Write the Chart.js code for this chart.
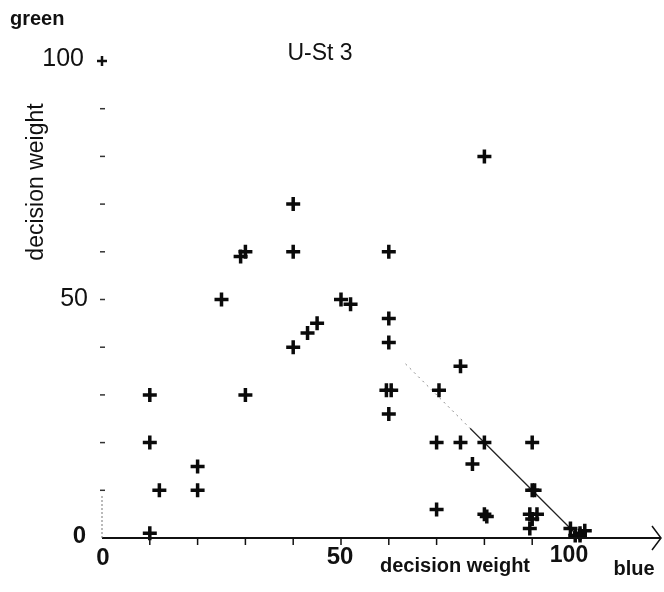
<!DOCTYPE html>
<html>
<head>
<meta charset="utf-8">
<script src="https://cdn.jsdelivr.net/npm/chart.js"></script>
<style>
  body { margin: 0; background: #fff; }
  canvas { display: block; }
</style>
</head>
<body>
<canvas id="myChart" width="664" height="592"></canvas>
<script>
// decision weights (blue = x, green = y)
var blueW  = [10, 10, 10, 12, 20, 20, 25, 29, 30, 30, 40, 40, 40, 43, 45, 50, 52,
              60, 60, 60, 59.5, 60.5, 60, 70.5, 75, 80, 70, 75, 80, 90, 77.5,
              90, 90.5, 70, 80, 80.5, 89.5, 90, 91, 89.5, 98, 100, 101, 99, 100];
var greenW = [1, 20, 30, 10, 10, 15, 50, 59, 60, 30, 70, 60, 40, 43, 45, 50, 49,
              60, 46, 41, 31, 31, 26, 31, 36, 80, 20, 20, 20, 20, 15.5,
              10, 10, 6, 5, 4.5, 5, 4, 5, 2, 2, 1, 1.5, 0.5, 0.5];

// the line y = 100 - x, faint part and solid part
var lineFaintX = [63.5, 77];
var lineFaintY = [36.5, 23];
var lineSolidX = [77, 99];
var lineSolidY = [23, 1];

var xTicks = [0, 10, 20, 30, 40, 50, 60, 70, 80, 90, 100];
var yTicks = [0, 10, 20, 30, 40, 50, 60, 70, 80, 90, 100];
var xLabels = ['0', '50', '100'];
var yLabels = ['0', '50', '100'];

function pairs(xs, ys) {
    var out = [];
    for (var i = 0; i < xs.length; i++) {
        out.push({x: xs[i], y: ys[i]});
    }
    return out;
}

var axesPlugin = {
    id: 'paperAxes',
    afterDraw: function(chart) {
        var ctx = chart.ctx;
        var sx = chart.scales.x;
        var sy = chart.scales.y;
        var x0 = sx.getPixelForValue(0);
        var y0 = sy.getPixelForValue(0);

        ctx.save();
        ctx.strokeStyle = '#111';
        ctx.fillStyle = '#111';

        // x axis with arrow
        ctx.lineWidth = 2;
        ctx.beginPath();
        ctx.moveTo(x0, y0);
        ctx.lineTo(660, y0);
        ctx.stroke();
        ctx.lineWidth = 1.5;
        ctx.beginPath();
        ctx.moveTo(652, y0 - 12);
        ctx.lineTo(661, y0);
        ctx.lineTo(652, y0 + 12);
        ctx.stroke();

        // x ticks
        ctx.lineWidth = 1.5;
        xTicks.forEach(function(v) {
            if (v === 0 || v === 100) return;
            var px = sx.getPixelForValue(v);
            ctx.beginPath();
            ctx.moveTo(px, y0 - 1);
            ctx.lineTo(px, y0 + 7);
            ctx.stroke();
        });

        // y axis: dotted stub and dash ticks
        ctx.strokeStyle = '#777';
        ctx.lineWidth = 1;
        ctx.setLineDash([2, 2]);
        ctx.beginPath();
        ctx.moveTo(x0, y0);
        ctx.lineTo(x0, sy.getPixelForValue(9));
        ctx.stroke();
        ctx.setLineDash([]);
        ctx.strokeStyle = '#333';
        ctx.lineWidth = 1.5;
        yTicks.forEach(function(v) {
            if (v === 0 || v === 100) return;
            var py = sy.getPixelForValue(v);
            ctx.beginPath();
            ctx.moveTo(x0 - 2, py);
            ctx.lineTo(x0 + 3, py);
            ctx.stroke();
        });
        // the "+" at 100
        var p100 = sy.getPixelForValue(100);
        ctx.strokeStyle = '#111';
        ctx.lineWidth = 2.5;
        ctx.beginPath();
        ctx.moveTo(x0, p100 - 5);
        ctx.lineTo(x0, p100 + 5);
        ctx.moveTo(x0 - 5, p100);
        ctx.lineTo(x0 + 5, p100);
        ctx.stroke();

        // y tick labels
        ctx.textBaseline = 'middle';
        ctx.textAlign = 'right';
        ctx.font = '25px "Liberation Sans", Arial, sans-serif';
        ctx.fillText(yLabels[2], 84, p100 - 2);
        ctx.fillText(yLabels[1], 88, sy.getPixelForValue(50));
        ctx.font = 'bold 24px "Liberation Sans", Arial, sans-serif';
        ctx.fillText(yLabels[0], 86, y0 - 2);

        // x tick labels
        ctx.textAlign = 'center';
        ctx.font = 'bold 24px "Liberation Sans", Arial, sans-serif';
        ctx.fillText(xLabels[0], sx.getPixelForValue(0) + 1, 558);
        ctx.fillText(xLabels[1], sx.getPixelForValue(50) - 1, 557);
        ctx.font = 'bold 23px "Liberation Sans", Arial, sans-serif';
        ctx.fillText(xLabels[2], sx.getPixelForValue(100) - 11, 556);

        // axis titles
        ctx.font = 'bold 20px "Liberation Sans", Arial, sans-serif';
        ctx.fillText('decision weight', 455, 566);
        ctx.fillText('blue', 634, 569);
        ctx.textAlign = 'left';
        ctx.font = 'bold 20px "Liberation Sans", Arial, sans-serif';
        ctx.fillText('green', 10, 19);

        ctx.textAlign = 'center';
        ctx.font = '23px "Liberation Sans", Arial, sans-serif';
        ctx.fillText('U-St 3', 320, 54);

        ctx.translate(37, 182);
        ctx.rotate(-Math.PI / 2);
        ctx.font = '23px "Liberation Sans", Arial, sans-serif';
        ctx.fillText('decision weight', 0, 0);
        ctx.restore();
    }
};

var ctx = document.getElementById('myChart').getContext('2d');

var myChart = new Chart(ctx, {
    type: 'scatter',
    data: {
        datasets: [{
            label: 'points',
            data: pairs(blueW, greenW),
            pointStyle: 'cross',
            pointRadius: 7,
            borderWidth: 3.5,
            borderColor: '#0a0a0a',
            backgroundColor: '#0a0a0a',
            clip: false
        }, {
            label: 'faint',
            data: pairs(lineFaintX, lineFaintY),
            showLine: true,
            pointRadius: 0,
            borderColor: '#888',
            borderWidth: 1,
            borderDash: [2, 4]
        }, {
            label: 'solid',
            data: pairs(lineSolidX, lineSolidY),
            showLine: true,
            pointRadius: 0,
            borderColor: '#222',
            borderWidth: 1.3
        }]
    },
    plugins: [axesPlugin],
    options: {
        responsive: false,
        animation: false,
        layout: {
            padding: {left: 102, right: 84, top: 61, bottom: 54}
        },
        plugins: {
            legend: {display: false},
            tooltip: {enabled: false}
        },
        scales: {
            x: {type: 'linear', min: 0, max: 100, display: false},
            y: {type: 'linear', min: 0, max: 100, display: false}
        }
    }
});
</script>
</body>
</html>
